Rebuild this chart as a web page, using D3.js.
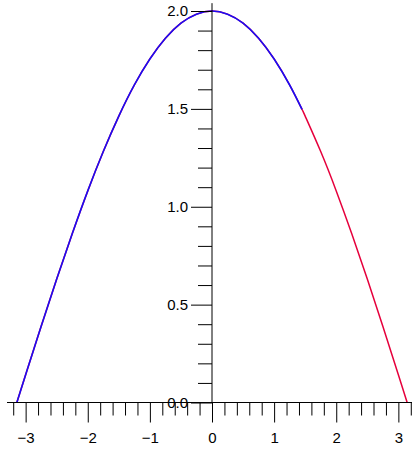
<!DOCTYPE html>
<html>
<head>
<meta charset="utf-8">
<script src="https://cdn.jsdelivr.net/npm/d3@7/dist/d3.min.js"></script>
<style>
  html, body { margin: 0; padding: 0; background: #fff; }
  svg { display: block; }
  .axis text { font-family: "Liberation Sans", Arial, sans-serif; font-size: 15px; fill: #000; }
  .axis line { stroke: #000; stroke-width: 1; }
</style>
</head>
<body>
<svg id="chart" width="412" height="451"></svg>
<script>
// Sampled curve: x positions and the y value of the arch at each one
const xs = [-3.1416, -3.0, -2.75, -2.5, -2.25, -2.0, -1.75, -1.5, -1.25, -1.0, -0.75, -0.5, -0.25,
            0, 0.25, 0.5, 0.75, 1.0, 1.25, 1.45, 1.5, 1.75, 2.0, 2.25, 2.5, 2.75, 3.0, 3.1416];
const ys = [0, 0.1415, 0.389, 0.631, 0.862, 1.081, 1.282, 1.463, 1.622, 1.755, 1.861, 1.938, 1.984,
            2.0, 1.984, 1.938, 1.861, 1.755, 1.622, 1.497, 1.463, 1.282, 1.081, 0.862, 0.631, 0.389, 0.1415, 0];

// The blue piece covers the left part of the arch, the red one the whole arch
const blueEnd = 1.45;

// Axis ticks
const xMajor = [-3, -2, -1, 0, 1, 2, 3];
const xMinor = [-3.2, -2.8, -2.6, -2.4, -2.2, -1.8, -1.6, -1.4, -1.2, -0.8, -0.6, -0.4, -0.2,
                0.2, 0.4, 0.6, 0.8, 1.2, 1.4, 1.6, 1.8, 2.2, 2.4, 2.6, 2.8, 3.2];
const yMajor = [0, 0.5, 1.0, 1.5, 2.0];
const yMinor = [0.1, 0.2, 0.3, 0.4, 0.6, 0.7, 0.8, 0.9, 1.1, 1.2, 1.3, 1.4, 1.6, 1.7, 1.8, 1.9];

const svg = d3.select("#chart");

const x = d3.scaleLinear().domain([-3.3, 3.3]).range([7, 417]);
const y = d3.scaleLinear().domain([0, 2]).range([402.5, 11]);

const pts = xs.map((v, i) => ({ x: v, y: ys[i] }));

const line = d3.line()
  .x(d => x(d.x))
  .y(d => y(d.y))
  .curve(d3.curveNatural);

// Curves
svg.append("path")
  .datum(pts)
  .attr("d", line)
  .attr("fill", "none")
  .attr("stroke", "#e6003c")
  .attr("stroke-width", 1.5);

svg.append("path")
  .datum(pts.filter(d => d.x <= blueEnd))
  .attr("d", line)
  .attr("fill", "none")
  .attr("stroke", "#1a0cf4")
  .attr("stroke-width", 1.6);

// x axis
const gx = svg.append("g").attr("class", "axis").attr("transform", `translate(0,${y(0)})`);
gx.append("line")
  .attr("x1", x(-3.3)).attr("x2", x(3.3))
  .attr("y1", 0).attr("y2", 0);
gx.append("g").call(
  d3.axisBottom(x).tickValues(xMinor).tickSize(13).tickFormat("")
).call(g => g.select(".domain").remove());
gx.append("g").call(
  d3.axisBottom(x).tickValues(xMajor).tickSize(20).tickPadding(9.5).tickFormat(d3.format("d"))
).call(g => g.select(".domain").remove());

// y axis
const gy = svg.append("g").attr("class", "axis").attr("transform", `translate(${x(0)},0)`);
gy.append("line")
  .attr("x1", 0).attr("x2", 0)
  .attr("y1", y(0)).attr("y2", y(2.04));
gy.append("g").call(
  d3.axisLeft(y).tickValues(yMinor).tickSize(14).tickFormat("")
).call(g => g.select(".domain").remove());
gy.append("g").call(
  d3.axisLeft(y).tickValues(yMajor).tickSize(21).tickPadding(3).tickFormat(d3.format(".1f"))
).call(g => g.select(".domain").remove());
</script>
</body>
</html>
